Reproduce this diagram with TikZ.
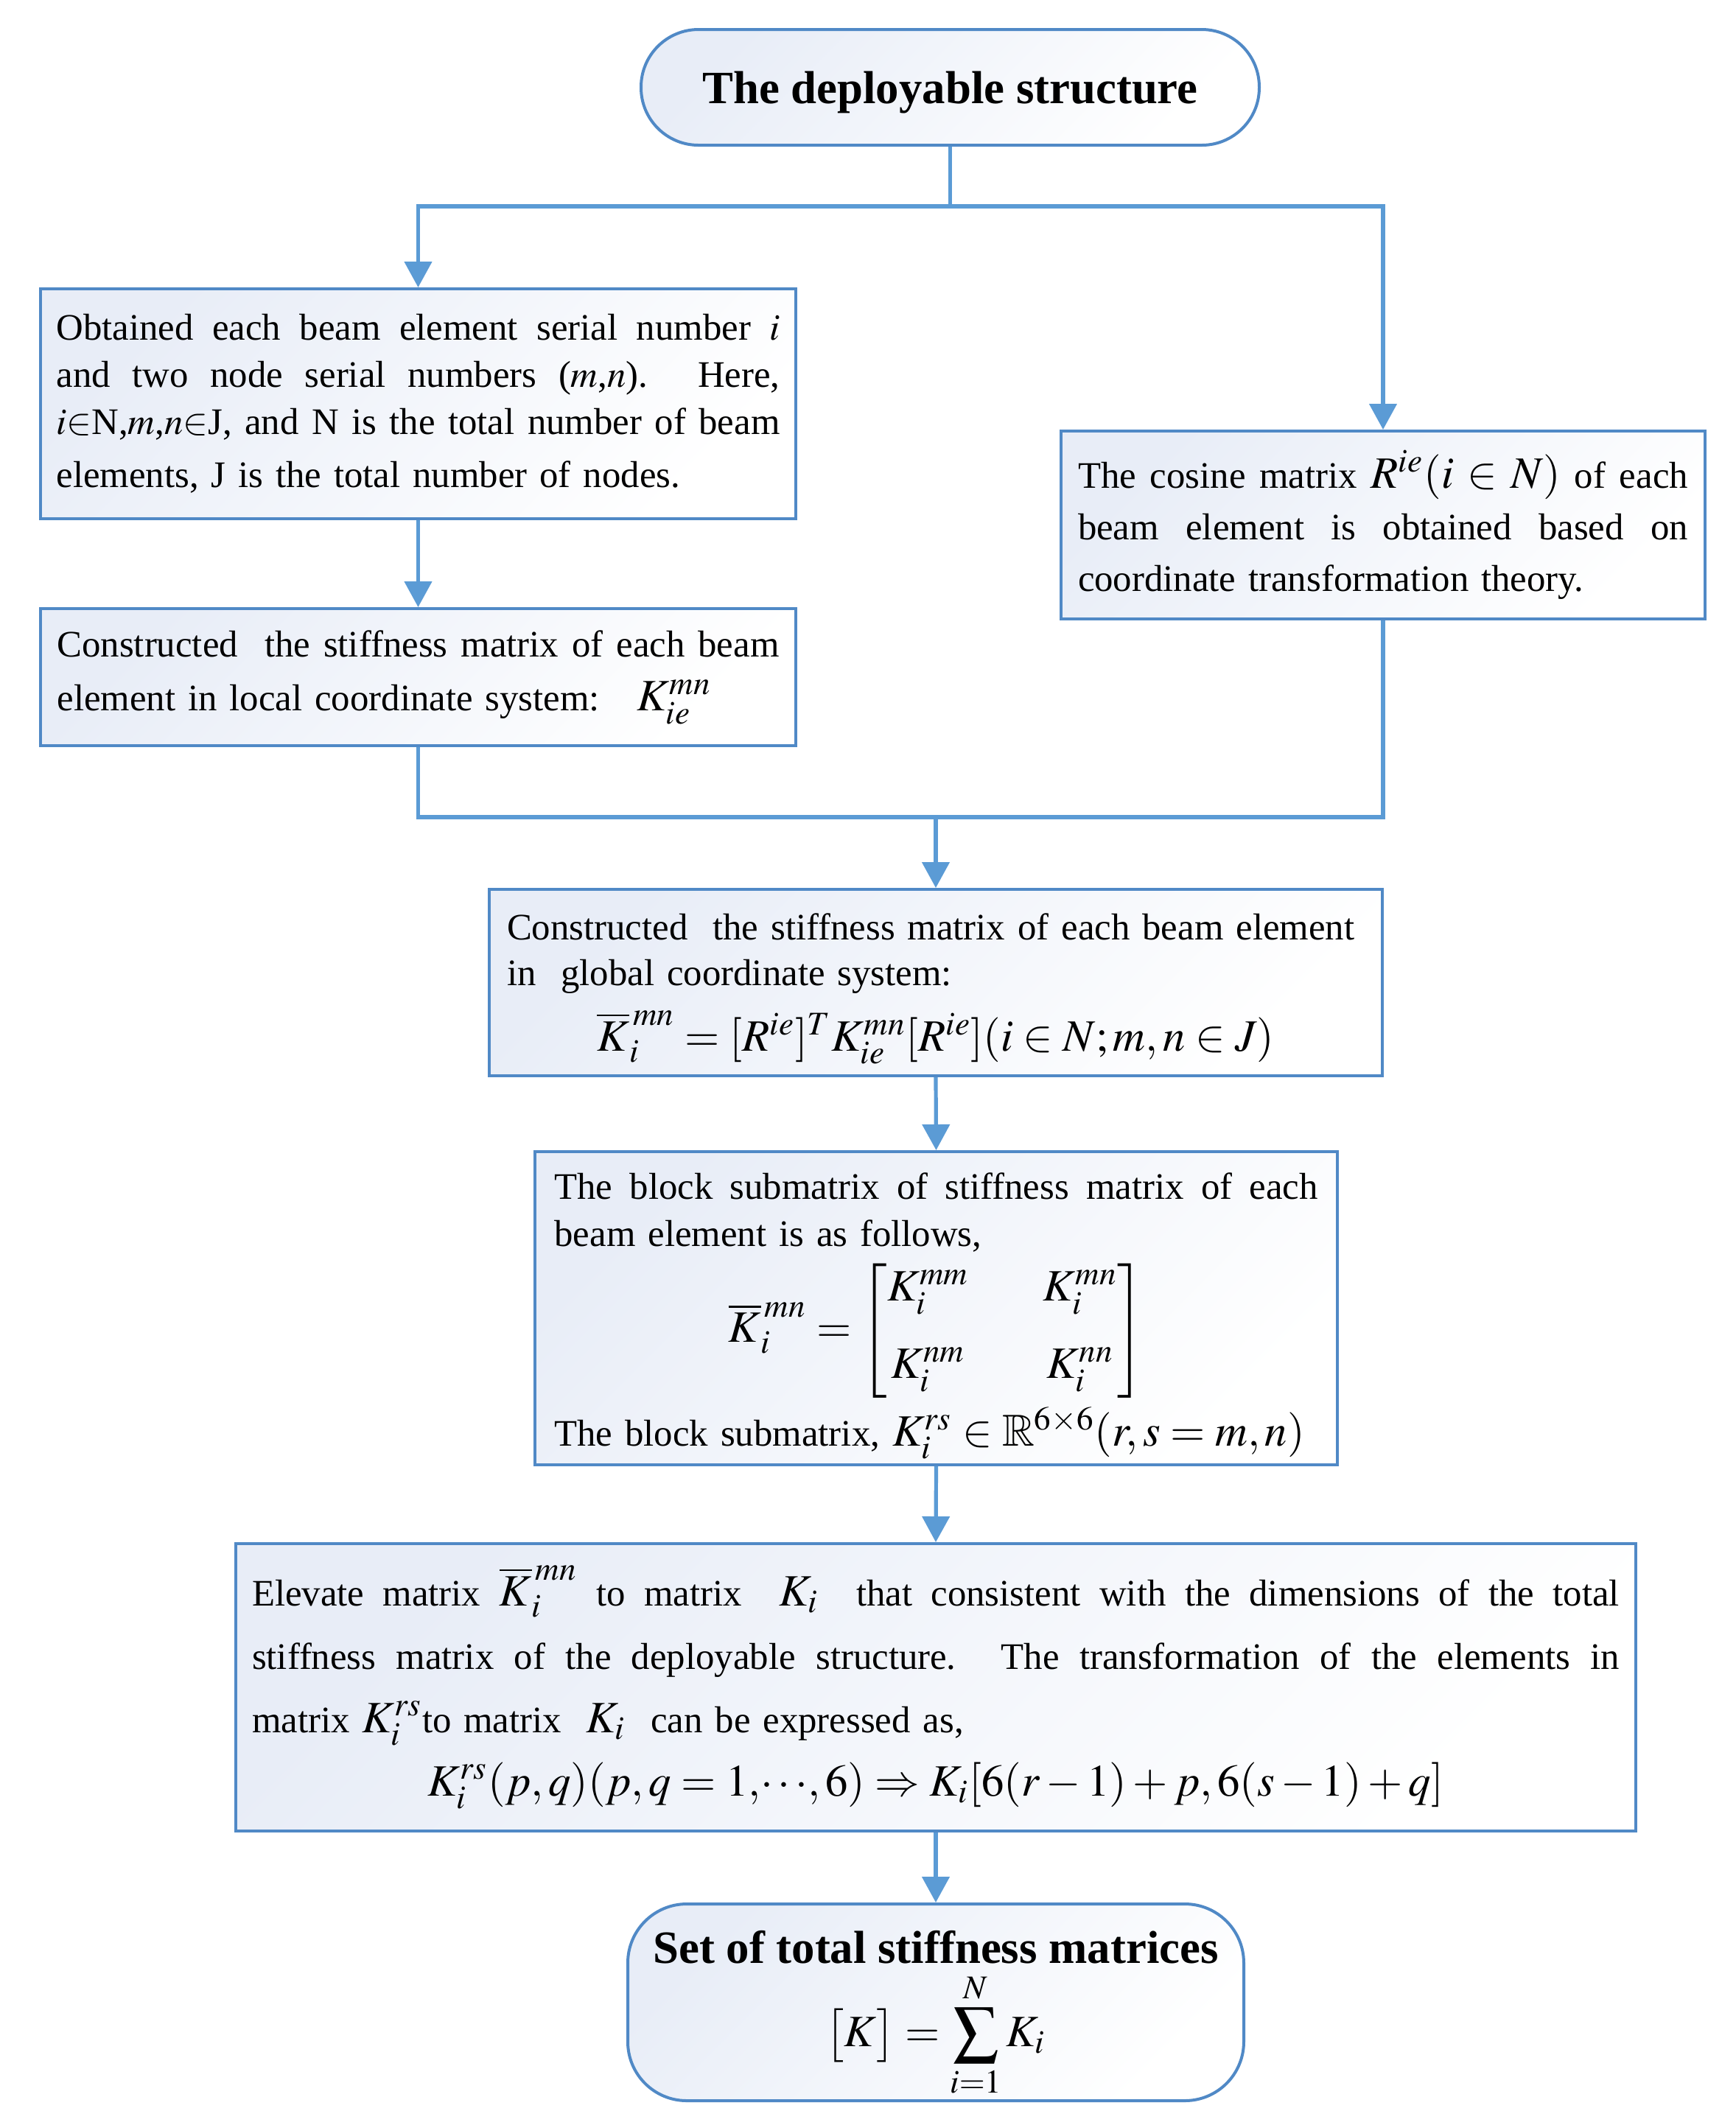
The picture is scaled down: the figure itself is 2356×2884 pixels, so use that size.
\documentclass[tikz,border=0pt]{standalone}
\usepackage{amsmath}
\usepackage{mathptmx}
\usepackage{amssymb}
\usepackage[no-math]{fontspec}
\setmainfont{Liberation Serif}
\usetikzlibrary{arrows.meta}
\definecolor{lc}{HTML}{5B9BD5}
\definecolor{bc}{HTML}{5089C6}
\definecolor{fc}{HTML}{E8EDF7}
\newcommand\mth[1]{{\fontsize{15.2}{15.2}\selectfont$#1$}}
\newcommand\jl[1]{{\spaceskip=0pt\xspaceskip=0pt\makebox[\linewidth][s]{#1}}}
\newcommand\cl[1]{\makebox[\linewidth][c]{#1}}
\tikzset{
  box/.style={draw=bc, line width=1pt, left color=fc, right color=white, shading angle=45, inner sep=0pt, align=left},
  ln/.style={draw=lc, line width=1.3pt},
  arr/.style={draw=lc, line width=1.3pt, -{Triangle[length=8.75pt,width=9.2pt]}},
  body/.style={font=\fontsize{12.7}{#1}\selectfont}
}
\begin{document}
\begin{tikzpicture}[x=0.25pt,y=-0.25pt]
\useasboundingbox (0,0) rectangle (2356,2884);
\fill[white] (0,0) rectangle (2356,2884);

\node[box, rounded corners=19.5pt, minimum width=209.75pt, minimum height=39.25pt, align=center, text depth=0pt,
      font=\fontsize{15.7}{19}\selectfont\bfseries] (start) at (1289.5,118.5) {The deployable structure};

\node[box, minimum width=256.25pt, minimum height=78pt, text width=245.5pt, body=16pt] (b1) at (567.5,548)
{\jl{Obtained each beam element serial number $i$}\\
 \jl{and two node serial numbers ($m$,$n$). Here,}\\
 \jl{$i{\in}$N,$m$,$n{\in}$J, and N is the total number of beam}\\[2pt]
 elements, J is the total number of nodes.};

\node[box, minimum width=218.5pt, minimum height=63.75pt, text width=207pt, body=17.5pt] (b2) at (1877,712.5)
{\jl{The cosine matrix \mth{R^{ie}(i\in N)} of each}\\
 \jl{beam element is obtained based on}\\
 coordinate transformation theory.};

\node[box, minimum width=256.25pt, minimum height=46.5pt, text width=245pt, body=18.4pt] (b3) at (567.5,919)
{\jl{Constructed\ \ the stiffness matrix of each beam}\\
 element in local coordinate system:\ \ \ \mth{K_{ie}^{mn}}};

\node[box, minimum width=303pt, minimum height=63.25pt, text width=291pt, body=15.6pt] (b4) at (1270,1333.5)
{\rule{0pt}{13pt}Constructed\ \ the stiffness matrix of each beam element\\
 in\ \ global coordinate system:\\[5pt]
 \cl{\mth{\overline{K}_i^{\,mn}=[R^{ie}]^T K_{ie}^{mn}[R^{ie}](i\in N;m,n\in J)}}};

\node[box, minimum width=272.25pt, minimum height=106.25pt, text width=259pt, body=16pt] (b5) at (1270.5,1775.5)
{\rule{0pt}{14pt}\jl{The block submatrix of stiffness matrix of each}\\
 beam element is as follows,\\[3pt]
 \cl{\mth{\overline{K}_i^{\,mn}=\begin{bmatrix} K_i^{mm} & \quad K_i^{mn}\\[11pt] K_i^{nm} & \quad K_i^{nn}\end{bmatrix}}}\\[2pt]
 The block submatrix, \mth{K_i^{rs}\in\mathbb{R}^{6\times6}(r,s=m,n)}};

\node[box, minimum width=475pt, minimum height=97.5pt, text width=464pt, body=21.5pt] (b6) at (1270,2290)
{\jl{Elevate matrix \mth{\overline{K}_i^{\,mn}} to matrix\ \ \mth{K_i}\ \ that consistent with the dimensions of the total}\\
 \jl{stiffness matrix of the deployable structure. The transformation of the elements in}\\
 matrix \mth{K_i^{rs}}to matrix\ \ \mth{K_i}\ \ can be expressed as,\\
 \cl{\mth{K_i^{rs}(p,q)(p,q=1,\mkern-2mu\cdots\mkern-2mu,6)\Rightarrow K_i[6(r-1)+p,6(s-1)+q]}}};

\node[box, rounded corners=20pt, minimum width=209pt, minimum height=66.75pt, align=center,
      font=\fontsize{15.7}{19}\selectfont] (fin) at (1270,2717.5)
{\rule{0pt}{19pt}\textbf{Set of total stiffness matrices}\\[2pt]
 \mth{\displaystyle \big[K\big]=\sum_{i=1}^{N}K_i}};

\coordinate (sp) at (1289.5,280);
\coordinate (mg) at (1270,1109);
\draw[ln] (start.south) -- (sp);
\draw[arr] (sp) -| (b1.north);
\draw[arr] (sp) -| (b2.north);
\draw[arr] (b1.south) -- (b3.north);
\draw[ln] (b3.south) |- (mg);
\draw[ln] (b2.south) |- (mg);
\draw[arr] (mg) -- (b4.north);
\draw[arr] (b4.south) -- (b5.north);
\draw[arr] (b5.south) -- (b6.north);
\draw[arr] (b6.south) -- (fin.north);
\end{tikzpicture}
\end{document}
